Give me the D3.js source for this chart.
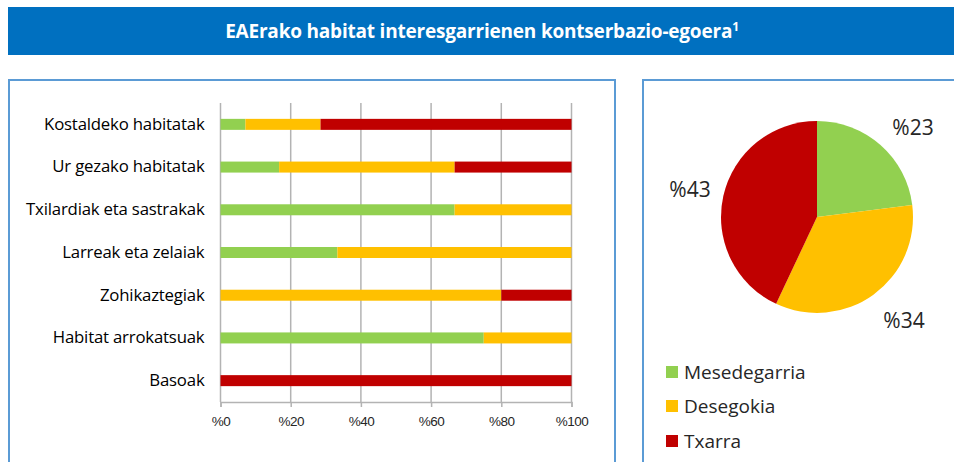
<!DOCTYPE html>
<html><head><meta charset="utf-8">
<script src="https://cdn.jsdelivr.net/npm/d3@7"></script>
<style>
html,body{margin:0;padding:0;background:#fff;}
svg{display:block;font-family:"Open Sans",sans-serif;}
</style></head>
<body>
<svg id="c" width="954" height="462"></svg>
<script>
const title = "EAErako habitat interesgarrienen kontserbazio-egoera";
const categories = ["Kostaldeko habitatak","Ur gezako habitatak","Txilardiak eta sastrakak","Larreak eta zelaiak","Zohikaztegiak","Habitat arrokatsuak","Basoak"];
const seriesNames = ["Mesedegarria","Desegokia","Txarra"];
const mesedegarria = [7.1, 16.7, 66.7, 33.3, 0, 75, 0];
const desegokia   = [21.4, 50, 33.3, 66.7, 80, 25, 0];
const txarra      = [71.5, 33.3, 0, 0, 20, 0, 100];
const xTicks = [0, 20, 40, 60, 80, 100];
const pieValues = [23, 34, 43];
const colors = ["#92d050", "#ffc000", "#c00000"];

const svg = d3.select("#c");

// title bar
svg.append("rect").attr("x", 8).attr("y", 7).attr("width", 946).attr("height", 48).attr("fill", "#0070c0");
const tt = svg.append("text").attr("x", 482).attr("y", 38).attr("text-anchor", "middle")
  .attr("fill", "#fff").attr("font-weight", "bold").attr("font-size", 19).attr("letter-spacing", "-0.2px").text(title);
tt.append("tspan").attr("font-size", 12).attr("dy", -7).text("1");

// panels
svg.append("rect").attr("x", 9).attr("y", 80).attr("width", 606).attr("height", 420)
  .attr("fill", "none").attr("stroke", "#5b9bd5").attr("stroke-width", 2);
svg.append("rect").attr("x", 643).attr("y", 80).attr("width", 340).attr("height", 420)
  .attr("fill", "none").attr("stroke", "#5b9bd5").attr("stroke-width", 2);

// bar chart
const x = d3.scaleLinear().domain([0, 100]).range([220.5, 571.5]);
const y = d3.scaleBand().domain(categories).range([103, 402]);
const g = svg.append("g");

const xAxis = d3.axisBottom(x).tickValues(xTicks).tickSize(5).tickFormat(d => "%" + d);
const gx = g.append("g").attr("transform", "translate(0,402)").call(xAxis);
gx.select(".domain").attr("stroke", "#b3b3b3").attr("stroke-width", 1.5);
gx.selectAll(".tick line").attr("stroke", "#b3b3b3").attr("stroke-width", 1.5);
gx.selectAll(".tick text").attr("font-size", 13.5).attr("fill", "#262626").attr("dy", "1.15em")
  .attr("letter-spacing", "-0.5px");

// gridlines
g.append("g").selectAll("line").data(xTicks).join("line")
  .attr("x1", d => x(d)).attr("x2", d => x(d)).attr("y1", 103).attr("y2", 402)
  .attr("stroke", "#b3b3b3").attr("stroke-width", 1.5);

const stackData = categories.map((c, i) => ({cat: c, Mesedegarria: mesedegarria[i], Desegokia: desegokia[i], Txarra: txarra[i]}));
const stacked = d3.stack().keys(seriesNames)(stackData);
const barH = 11;
g.append("g").selectAll("g").data(stacked).join("g")
  .attr("fill", (d, i) => colors[i])
  .selectAll("rect").data(d => d).join("rect")
  .attr("x", d => x(d[0]))
  .attr("width", d => Math.max(0, x(d[1]) - x(d[0])))
  .attr("y", d => y(d.data.cat) + y.bandwidth() / 2 - barH / 2)
  .attr("height", barH);

const yAxis = d3.axisLeft(y).tickSize(0).tickPadding(16);
const gy = g.append("g").attr("transform", "translate(220.5,0)").call(yAxis);
gy.select(".domain").remove();
gy.selectAll(".tick text").attr("font-size", 16.8).attr("fill", "#000").attr("font-family", "Open Sans, sans-serif")
  .attr("letter-spacing", "-0.2px");

// pie
const cx = 817, cy = 217, r = 96;
const pie = d3.pie().sort(null).value(d => d)(pieValues);
const arc = d3.arc().innerRadius(0).outerRadius(r);
const pg = svg.append("g").attr("transform", `translate(${cx},${cy})`);
pg.selectAll("path").data(pie).join("path").attr("d", arc).attr("fill", (d, i) => colors[i]);
const labelPos = [[96, -90], [87, 103], [-127, -28]];
pg.selectAll("text").data(pie).join("text")
  .attr("x", (d, i) => labelPos[i][0]).attr("y", (d, i) => labelPos[i][1])
  .attr("text-anchor", "middle").attr("dominant-baseline", "central")
  .attr("font-size", 21).attr("fill", "#262626").text(d => "%" + d.data);

// legend
const lg = svg.append("g").attr("transform", "translate(666,0)");
const ly = [372, 406, 441];
seriesNames.forEach((s, i) => {
  lg.append("rect").attr("x", 0).attr("y", ly[i] - 6).attr("width", 12).attr("height", 12).attr("fill", colors[i]);
  lg.append("text").attr("x", 18).attr("y", ly[i]).attr("dominant-baseline", "central")
    .attr("font-size", 19).attr("fill", "#262626").text(s);
});
</script>
</body></html>
